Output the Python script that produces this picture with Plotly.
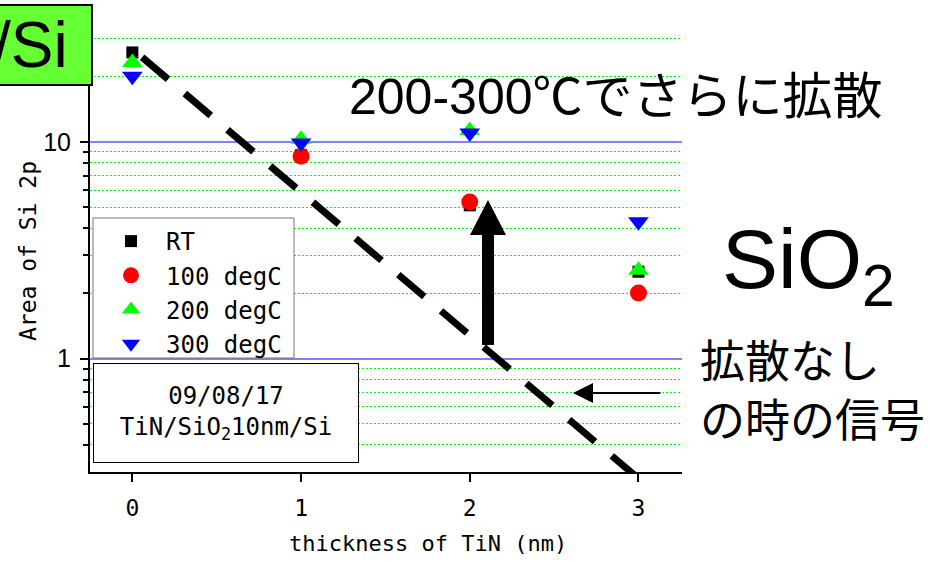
import plotly.graph_objects as go
import math

# ---- data ----
thickness = [0, 1, 2, 3]
rt_vals = [25.9, 8.7, 5.1, 2.52]
deg100_vals = [None, 8.6, 5.28, 2.01]
deg200_vals = [23.3, 10.3, 11.3, 2.56]
deg300_vals = [20.1, 9.9, 11.0, 4.28]
series_names = ["RT", "100 degC", "200 degC", "300 degC"]
guide_x = [0.058, 3.0]
guide_y = [24.6, 0.28]
x_ticks = [0, 1, 2, 3]
y_major = [1, 10]
y_major_text = ["1", "10"]
y_minor = [0.4, 0.5, 0.6, 0.7, 0.8, 0.9, 2, 3, 4, 5, 6, 7, 8, 9, 20, 30]

W, H = 945, 565
L, R, T, B = 90, 682, 15, 472


def px(x):
    return (x - L) / (R - L)


def py(y):
    return (B - y) / (B - T)


fig = go.Figure()

fig.add_trace(go.Scatter(x=guide_x, y=guide_y, mode="lines", showlegend=False,
                         line=dict(color="black", width=7, dash="34px,22px"),
                         hoverinfo="skip"))

styles = [
    dict(symbol="square", color="black", size=12),
    dict(symbol="circle", color="#ff0000", size=17),
    dict(symbol="triangle-up", color="#00ff00", size=18),
    dict(symbol="triangle-down", color="#0000ff", size=18),
]
for name, vals, st in zip(series_names, [rt_vals, deg100_vals, deg200_vals, deg300_vals], styles):
    fig.add_trace(go.Scatter(x=thickness, y=vals, mode="markers", name=name,
                             legendgroup=name,
                             marker=dict(symbol=st["symbol"], color=st["color"], size=st["size"],
                                         line=dict(width=0))))

mono = "DejaVu Sans Mono, Liberation Mono, monospace"
ar = "Liberation Sans, Arial, Noto Sans CJK JP"

shapes = [
    # legend box
    dict(type="rect", xref="paper", yref="paper", x0=px(93), x1=px(294), y0=py(358), y1=py(218),
         fillcolor="white", line=dict(color="#777777", width=1), layer="above"),
    # green label box
    dict(type="rect", xref="paper", yref="paper", x0=px(-2), x1=px(92), y0=py(85), y1=py(5),
         fillcolor="#66ff33", line=dict(color="black", width=2), layer="above"),
]
arrow_pts = [(482, 345), (494, 345), (494, 235), (506, 235), (488, 200), (470, 235), (482, 235)]
path = "M " + " L ".join(f"{px(a):.5f},{py(b):.5f}" for a, b in arrow_pts) + " Z"
shapes.append(dict(type="path", xref="paper", yref="paper", path=path,
                   fillcolor="black", line=dict(color="black", width=0), layer="above"))

annotations = [
    dict(text="200-300℃でさらに拡散", x=px(616), y=py(97), xref="paper", yref="paper",
         showarrow=False, font=dict(family=ar, size=50, color="black"), xanchor="center", yanchor="middle"),
    dict(text="SiO<sub>2</sub>", x=px(720), y=py(265), xref="paper", yref="paper",
         showarrow=False, font=dict(family=ar, size=84, color="black"), xanchor="left", yanchor="middle"),
    dict(text="拡散なし<br>の時の信号", x=px(698), y=py(392), xref="paper", yref="paper",
         showarrow=False, font=dict(family=ar, size=45, color="black"), xanchor="left", yanchor="middle",
         align="left"),
    dict(text="09/08/17<br>TiN/SiO<sub>2</sub>10nm/Si", x=px(226), y=py(413), xref="paper", yref="paper",
         showarrow=False, font=dict(family=mono, size=24, color="black"), xanchor="center", yanchor="middle",
         width=262, height=96, bgcolor="white", bordercolor="black", borderwidth=1, borderpad=1),
    dict(text="thickness of TiN (nm)", x=px(428), y=py(543), xref="paper", yref="paper",
         showarrow=False, font=dict(family=mono, size=22, color="black"), xanchor="center", yanchor="middle"),
    dict(text="Area of Si 2p", x=px(28), y=py(251), xref="paper", yref="paper", textangle=-90,
         showarrow=False, font=dict(family=mono, size=23, color="black"), xanchor="center", yanchor="middle"),
    dict(text="/Si", x=px(70), y=py(45), xref="paper", yref="paper",
         showarrow=False, font=dict(family=ar, size=64, color="black"), xanchor="right", yanchor="middle"),
    dict(text="", x=px(573), y=py(393), xref="paper", yref="paper", ax=89, ay=0,
         showarrow=True, arrowhead=2, arrowsize=2, arrowwidth=2, arrowcolor="black"),
]

fig.update_layout(
    width=W, height=H,
    margin=dict(l=L, r=W - R, t=T, b=H - B, pad=0),
    paper_bgcolor="white", plot_bgcolor="white",
    shapes=shapes, annotations=annotations,
    showlegend=True,
    legend=dict(x=px(96), y=py(219), xanchor="left", yanchor="top",
                bgcolor="rgba(0,0,0,0)", borderwidth=0, itemwidth=60,
                font=dict(family=mono, size=24, color="black"), tracegroupgap=0),
    xaxis=dict(range=[-0.251, 3.258], tickvals=x_ticks, ticks="outside", ticklen=8, tickwidth=1.5,
               tickcolor="black", showline=True, linecolor="black", linewidth=2, showgrid=False,
               zeroline=False, tickfont=dict(family=mono, size=23, color="black"), ticklabelstandoff=6),
    yaxis=dict(type="log", range=[math.log10(0.3), 1.586], tickvals=y_major, ticktext=y_major_text,
               ticks="outside", ticklen=8, tickwidth=1.5, tickcolor="black",
               showline=True, linecolor="black", linewidth=2,
               showgrid=True, gridcolor="#8080ff", gridwidth=1.5, zeroline=False,
               tickfont=dict(family=ar, size=25, color="black"), ticklabelstandoff=4,
               minor=dict(tickmode="array", tickvals=y_minor, ticks="outside", ticklen=5,
                          tickcolor="black", tickwidth=1.5, showgrid=True, gridcolor="#00ff00",
                          griddash="2px,2px", gridwidth=1)),
)

fig.write_html("out.html")
